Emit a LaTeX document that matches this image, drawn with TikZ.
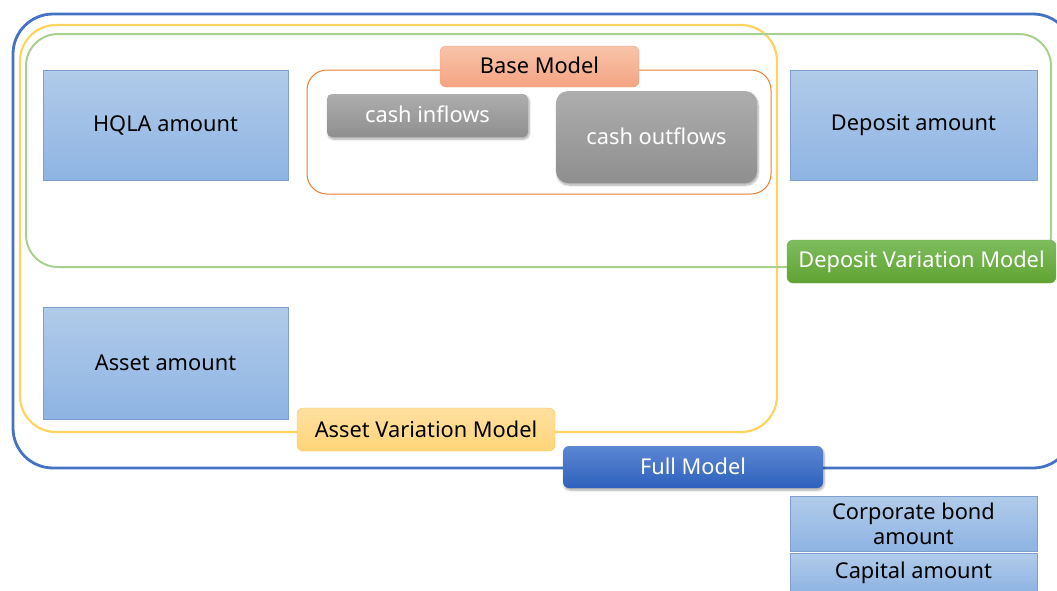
\documentclass[tikz,border=0pt]{standalone}
\usepackage{fontspec}
\setmainfont{Noto Sans}
\usetikzlibrary{shadows.blur}
\definecolor{fullblue}{HTML}{4472C4}
\definecolor{avmyel}{HTML}{FFD45E}
\definecolor{dvmgreen}{HTML}{A9D18E}
\definecolor{baseorange}{HTML}{ED7D31}
\definecolor{amttop}{HTML}{B1CBE9}
\definecolor{amtbot}{HTML}{8EB4E3}
\definecolor{amtborder}{HTML}{7F9FCD}
\tikzset{
  frame/.style={rounded corners=#1},
  amount/.style={draw=amtborder, line width=0.7pt, top color=amttop, bottom color=amtbot,
    inner sep=0pt, align=center, font=\fontsize{21.8}{25}\selectfont, text=black},
  flowbox/.style={rounded corners=#1, top color=black!32, bottom color=black!44, text=white,
    inner sep=0pt, font=\fontsize{21.8}{25}\selectfont,
    blur shadow={shadow xshift=1pt, shadow yshift=-2pt, shadow blur steps=6, shadow opacity=35}},
  tag/.style={rounded corners=6pt, inner sep=0pt, font=\fontsize{21.8}{25}\selectfont},
}
\begin{document}
\begin{tikzpicture}[x=1pt,y=-1pt]
\useasboundingbox (0,0) rectangle (1057,590);
\clip (0,0) rectangle (1057,590);
% frames
\draw[fullblue, line width=2.8pt, frame=40pt] (13,14) rectangle (1073,468);
\draw[avmyel, line width=2.2pt, frame=36pt] (20,25) rectangle (777,432);
\draw[dvmgreen, line width=2pt, frame=32pt] (26,34) rectangle (1051,267);
\draw[baseorange, line width=1pt, frame=20pt] (307,70) rectangle (771,194);
% amount boxes
\node[amount, minimum width=245pt, minimum height=110pt] (hqla) at (165.5,125) {\raisebox{1.5pt}{HQLA amount}};
\node[amount, minimum width=247pt, minimum height=110pt] (dep) at (913.5,125) {\raisebox{1.5pt}{Deposit amount}};
\node[amount, minimum width=245pt, minimum height=112pt] (asset) at (165.5,363) {\raisebox{1.5pt}{Asset amount}};
\node[amount, minimum width=247pt, minimum height=55pt] (corp) at (913.5,523.5) {Corporate bond\\amount};
\node[amount, minimum width=247pt, minimum height=39pt] (cap) at (913.5,572.5) {Capital amount};
% cash flows
\node[flowbox=5pt, minimum width=201pt, minimum height=43pt] (cin) at (427.5,115.5) {\raisebox{2pt}{cash inflows}};
\node[flowbox=12pt, minimum width=201pt, minimum height=92pt] (cout) at (656.5,137) {\raisebox{2pt}{cash outflows}};
% labels
\node[tag, draw=baseorange!70, top color={rgb,255:red,248;green,196;blue,170}, bottom color={rgb,255:red,244;green,164;blue,130},
  minimum width=199pt, minimum height=41pt, text=black] (base) at (539.5,66.5) {\raisebox{2pt}{Base Model}};
\node[tag, draw={rgb,255:red,110;green,170;blue,75}, top color={rgb,255:red,126;green,188;blue,94}, bottom color={rgb,255:red,96;green,163;blue,50},
  minimum width=269pt, minimum height=43pt, text=white] (dvm) at (921.5,261.5) {Deposit Variation Model};
\node[tag, draw={rgb,255:red,248;green,200;blue,90}, top color={rgb,255:red,255;green,224;blue,160}, bottom color={rgb,255:red,255;green,213;blue,120},
  minimum width=258pt, minimum height=43pt, text=black] (avm) at (426,429.5) {\raisebox{1.5pt}{Asset Variation Model}};
\node[tag, top color={rgb,255:red,92;green,135;blue,210}, bottom color={rgb,255:red,46;green,97;blue,189},
  minimum width=260pt, minimum height=42pt, text=white,
  blur shadow={shadow xshift=1pt, shadow yshift=-2pt, shadow blur steps=6, shadow opacity=35}] (full) at (693,467) {\raisebox{1.5pt}{Full Model}};
\end{tikzpicture}
\end{document}
